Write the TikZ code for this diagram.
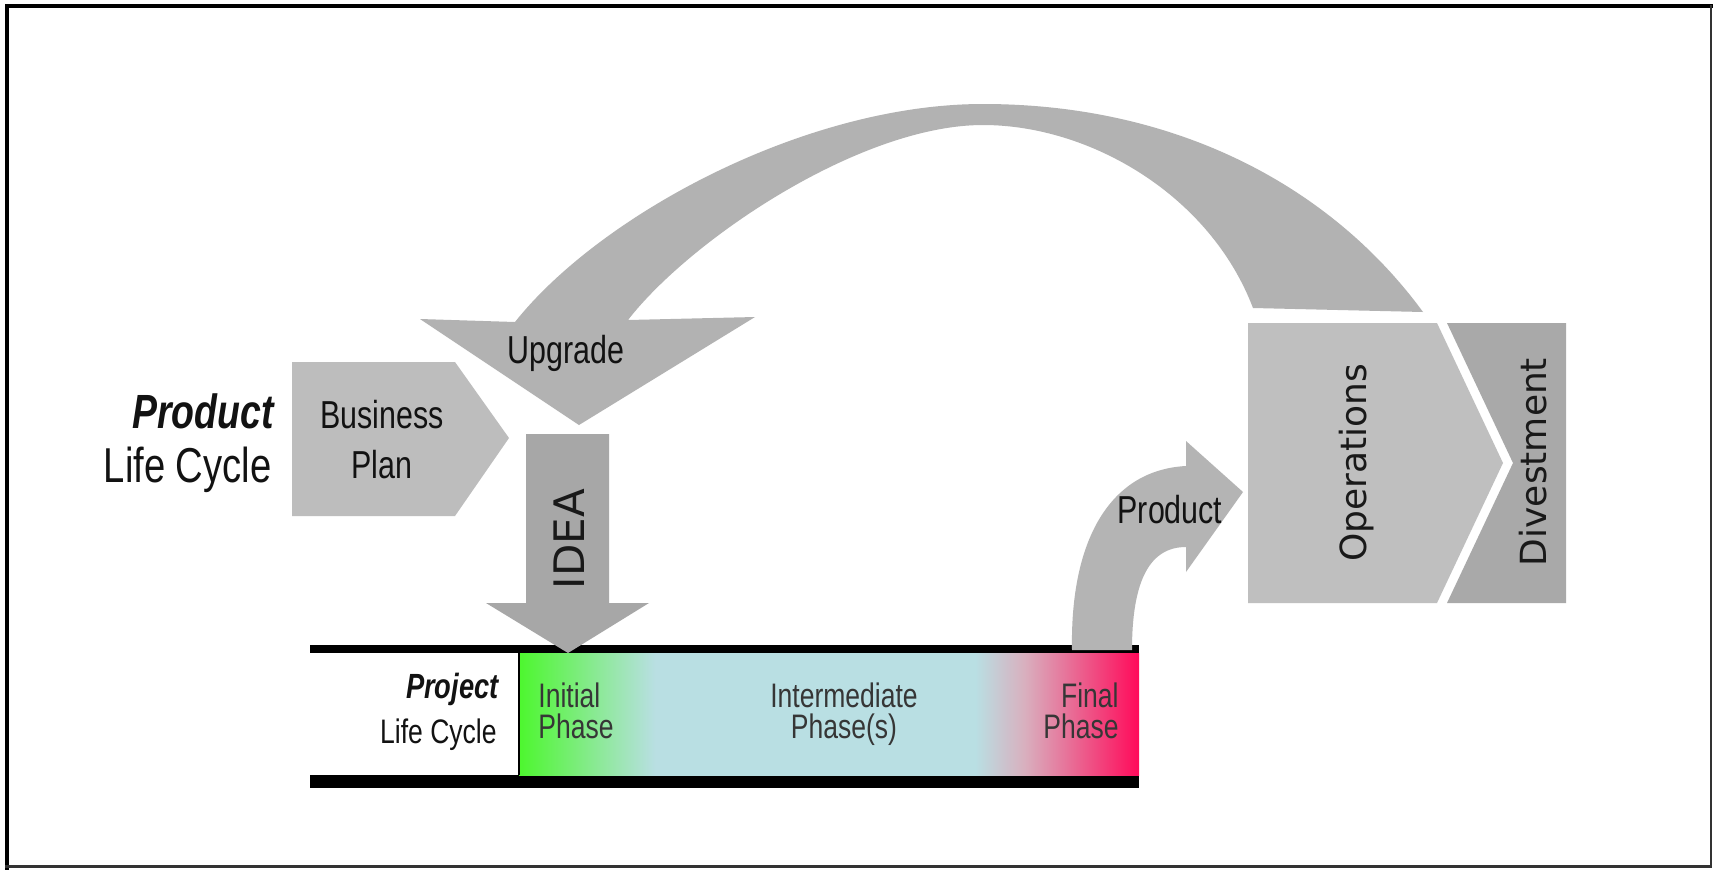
\documentclass[tikz,border=0pt]{standalone}
\usepackage{fontspec}
\setmainfont{Liberation Sans}
\newfontfamily\narrowfont[FakeStretch=0.78]{Liberation Sans}
\newfontfamily\widefont{DejaVu Sans}

\definecolor{arcgray}{HTML}{B2B2B2}
\definecolor{plangray}{HTML}{BDBDBD}
\definecolor{opsgray}{HTML}{BFBFBF}
\definecolor{divgray}{HTML}{A9A9A9}
\definecolor{ideagray}{HTML}{A7A7A7}
\definecolor{prodgray}{HTML}{B4B4B4}
\definecolor{phgreen}{HTML}{4DF72E}
\definecolor{phblue}{HTML}{B9DFE3}
\definecolor{phrose}{HTML}{D9AFBE}
\definecolor{phred}{HTML}{FF0A5A}
\definecolor{phtext}{HTML}{363636}

% colour run of the project phases, left to right
\pgfdeclarehorizontalshading{phasebar}{100bp}{%
  color(0bp)=(phgreen); color(25bp)=(phgreen); color(36bp)=(phblue);
  color(61.8bp)=(phblue); color(65.8bp)=(phrose); color(75bp)=(phred);
  color(100bp)=(phred)}

\tikzset{
  lbl/.style={inner sep=0pt, text=black!93},
  narrowbig/.style={font=\narrowfont\fontsize{19.5}{23}\selectfont},
  phaselbl/.style={inner sep=0pt, text=phtext, font=\narrowfont\fontsize{17}{20}\selectfont},
  widelbl/.style={inner sep=0pt, text=black!90, rotate=90, anchor=base},
  bar/.style={fill=black},
}

\begin{document}
\begin{tikzpicture}[x=0.5pt, y=-0.5pt]
\useasboundingbox (0,0) rectangle (1715,869);
\fill[white] (0,0) rectangle (1715,869);

% frame
\draw[black, line width=2pt] (6.5,870) -- (6.5,6) -- (1713,6);
\draw[black!80, line width=1.2pt] (1711,5) -- (1711,866.5) -- (5,866.5);

% project life cycle band
\fill[bar] (310,645) rectangle (1139,653);
\fill[bar] (310,775) rectangle (1139,788);
\shade[shading=phasebar] (519,653) rectangle (1139,775);
\draw[black, line width=1pt] (518.5,653) -- (518.5,775);

% business plan chevron
\fill[plangray] (292,362) -- (455,362) -- (509,438) -- (455,516) -- (292,516) -- cycle;

% IDEA arrow
\fill[ideagray] (526,434) -- (609,434) -- (609,603) -- (649,603) -- (568,653)
  -- (486,603) -- (526,603) -- cycle;

% product arrow
\fill[prodgray] (1072,650) .. controls (1070,540) and (1110,470) .. (1186,466)
  -- (1186,441) -- (1243,492) -- (1186,572) -- (1186,547)
  .. controls (1150,547) and (1132,580) .. (1132,650) -- cycle;

% upgrade arrow arching back from operations
\fill[arcgray] (1423,312) .. controls (1330,185) and (1175,104) .. (983,104)
  .. controls (805,104) and (600,215) .. (515,322)
  -- (420,319) -- (579,425) -- (755,317) -- (628,320)
  .. controls (690,240) and (860,125) .. (983,125)
  .. controls (1090,125) and (1210,195) .. (1253,308) -- cycle;

% operations and divestment
\fill[opsgray] (1248,323) -- (1437,323) -- (1503,463) -- (1437,603) -- (1248,603) -- cycle;
\fill[divgray] (1447,323) -- (1566,323) -- (1566,603) -- (1447,603) -- (1513,463) -- cycle;

% labels
\node[lbl, anchor=base east, font=\narrowfont\bfseries\itshape\fontsize{24}{28}\selectfont]
  (prodtitle) at (274,428) {Product};
\node[lbl, anchor=base east, font=\narrowfont\fontsize{24.5}{28}\selectfont]
  (prodcycle) at (272,482) {Life Cycle};
\node[lbl, narrowbig, anchor=base] (business) at (382,428) {Business};
\node[lbl, narrowbig, anchor=base] (plan) at (382,478) {Plan};
\node[lbl, narrowbig, anchor=base] (upgrade) at (566,363) {Upgrade};
\node[lbl, narrowbig, anchor=base] (product) at (1170,523) {Product};

\node[widelbl, font=\widefont\fontsize{21}{24}\selectfont] (idea) at (584,539) {IDEA};
\node[widelbl, font=\widefont\fontsize{18}{21}\selectfont] (ops) at (1366,463) {Operations};
\node[widelbl, font=\widefont\fontsize{18}{21}\selectfont] (div) at (1546,462) {Divestment};

\node[lbl, anchor=base east, font=\narrowfont\bfseries\itshape\fontsize{17.5}{20}\selectfont]
  (projtitle) at (499,698) {Project};
\node[lbl, anchor=base east, font=\narrowfont\fontsize{17}{20}\selectfont]
  (projcycle) at (497,743) {Life Cycle};

\node[phaselbl, anchor=base west] (init1) at (538,707) {Initial};
\node[phaselbl, anchor=base west] (init2) at (538,738) {Phase};
\node[phaselbl, anchor=base] (mid1) at (844,707) {Intermediate};
\node[phaselbl, anchor=base] (mid2) at (844,738) {Phase(s)};
\node[phaselbl, anchor=base east] (fin1) at (1119,707) {Final};
\node[phaselbl, anchor=base east] (fin2) at (1119,738) {Phase};
\end{tikzpicture}
\end{document}
